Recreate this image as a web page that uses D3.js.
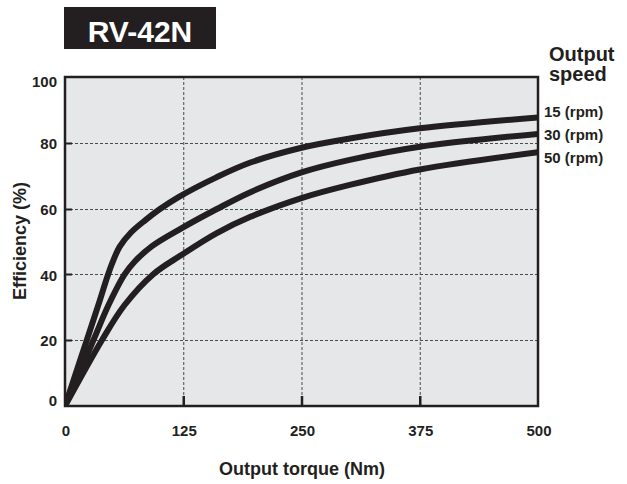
<!DOCTYPE html>
<html><head><meta charset="utf-8">
<script src="https://cdn.jsdelivr.net/npm/d3@7"></script>
<style>
html,body{margin:0;padding:0;background:#fff;}
svg{display:block;font-family:"Liberation Sans",Arial,Helvetica,sans-serif;}
</style></head>
<body>
<svg id="chart" width="627" height="484"></svg>
<script>
// ---- data ----
const chartTitle = "RV-42N";
const xTicks = [0, 125, 250, 375, 500];
const yTicks = [0, 20, 40, 60, 80, 100];
const seriesNames = ["15 (rpm)", "30 (rpm)", "50 (rpm)"];
const torque15 = [0, 23, 35, 45, 50, 58, 70, 85, 100, 120, 160, 196, 250, 301, 375, 500];
const eff15    = [0, 20, 30.5, 39.5, 43.5, 48.5, 52.8, 56.5, 59.8, 63.5, 69.5, 74, 78.5, 81.3, 84.4, 87.7];
const torque30 = [0, 30, 46, 63, 74, 92, 123, 160, 196, 250, 301, 375, 500];
const eff30    = [0, 20, 30.7, 40, 44, 48.6, 54, 59.8, 65, 71, 74.8, 78.8, 82.7];
const torque50 = [0, 39, 63, 93, 123, 160, 196, 250, 301, 375, 500];
const eff50    = [0, 20, 30.7, 40, 45.9, 52.5, 57.5, 63.2, 67.2, 71.9, 77.1];

const ink = "#231f20";
const svg = d3.select("#chart");
const x = d3.scaleLinear().domain([0, 500]).range([65, 538]);
const y = d3.scaleLinear().domain([0, 100]).range([406, 77]);

// title box
svg.append("rect").attr("x", 64).attr("y", 7).attr("width", 152).attr("height", 42).attr("fill", ink);
svg.append("text").attr("x", 140).attr("y", 42).attr("text-anchor", "middle")
  .attr("fill", "#fff").attr("font-size", 30).attr("font-weight", "bold").text(chartTitle);

// plot background
svg.append("rect").attr("x", x(0)).attr("y", y(100)).attr("width", x(500) - x(0)).attr("height", y(0) - y(100)).attr("fill", "#e6e7e8");

// grid
const grid = svg.append("g").attr("stroke", "#4a4a4a").attr("stroke-width", 1).attr("stroke-dasharray", "3,2");
grid.selectAll(".gx").data(xTicks.slice(1, -1)).join("line")
  .attr("x1", d => x(d) + 0.5).attr("x2", d => x(d) + 0.5).attr("y1", y(100)).attr("y2", y(0));
grid.selectAll(".gy").data(yTicks.slice(1, -1)).join("line")
  .attr("y1", d => Math.round(y(d)) + 0.5).attr("y2", d => Math.round(y(d)) + 0.5).attr("x1", x(0)).attr("x2", x(500));

// curves
const series = [
  {name: seriesNames[0], t: torque15, e: eff15},
  {name: seriesNames[1], t: torque30, e: eff30},
  {name: seriesNames[2], t: torque50, e: eff50}
];
const line = d3.line().x(d => x(d[0])).y(d => y(d[1])).curve(d3.curveCatmullRom.alpha(0.5));
svg.append("clipPath").attr("id", "clip").append("rect")
  .attr("x", x(0)).attr("y", y(100)).attr("width", x(500) - x(0)).attr("height", y(0) - y(100));
svg.append("g").attr("clip-path", "url(#clip)").selectAll("path").data(series).join("path")
  .attr("d", s => line(s.t.map((t, i) => [t, s.e[i]])))
  .attr("fill", "none").attr("stroke", ink).attr("stroke-width", 6).attr("stroke-linejoin", "round");

// frame
svg.append("rect").attr("x", x(0)).attr("y", y(100)).attr("width", x(500) - x(0)).attr("height", y(0) - y(100))
  .attr("fill", "none").attr("stroke", ink).attr("stroke-width", 2.5);

// ticks inward
svg.append("g").selectAll("line").data(xTicks.slice(1, -1)).join("line")
  .attr("x1", d => x(d) + 0.5).attr("x2", d => x(d) + 0.5).attr("y1", y(0)).attr("y2", y(0) - 10)
  .attr("stroke", ink).attr("stroke-width", 2.5);
svg.append("g").selectAll("line").data(yTicks.slice(1, -1)).join("line")
  .attr("y1", d => Math.round(y(d)) + 0.5).attr("y2", d => Math.round(y(d)) + 0.5).attr("x1", x(0)).attr("x2", x(0) + 7)
  .attr("stroke", ink).attr("stroke-width", 2);

// axis labels
svg.append("g").selectAll("text").data(xTicks).join("text")
  .attr("x", d => x(d) + 1).attr("y", 436).attr("text-anchor", "middle")
  .attr("fill", ink).attr("font-size", 15).attr("font-weight", "bold").text(d => d);
const yOff = d => d === 0 ? -5 : d === 100 ? 5 : 1;
svg.append("g").selectAll("text").data(yTicks).join("text")
  .attr("x", 57).attr("y", d => y(d) + yOff(d)).attr("dy", "0.35em").attr("text-anchor", "end")
  .attr("fill", ink).attr("font-size", 15).attr("font-weight", "bold").text(d => d);

svg.append("text").attr("x", 302).attr("y", 475).attr("text-anchor", "middle")
  .attr("fill", ink).attr("font-size", 18).attr("font-weight", "bold").text("Output torque (Nm)");
svg.append("text").attr("transform", "translate(26,241) rotate(-90)").attr("text-anchor", "middle")
  .attr("fill", ink).attr("font-size", 18).attr("font-weight", "bold").text("Efficiency (%)");

// legend
svg.append("text").attr("x", 549).attr("y", 61).attr("fill", ink).attr("font-size", 20).attr("font-weight", "bold").text("Output");
svg.append("text").attr("x", 549).attr("y", 81).attr("fill", ink).attr("font-size", 20).attr("font-weight", "bold").text("speed");
svg.append("g").selectAll("text").data(seriesNames).join("text")
  .attr("x", 544).attr("y", (d, i) => 117 + i * 23)
  .attr("fill", ink).attr("font-size", 15).attr("font-weight", "bold").text(d => d);
</script>
</body></html>
